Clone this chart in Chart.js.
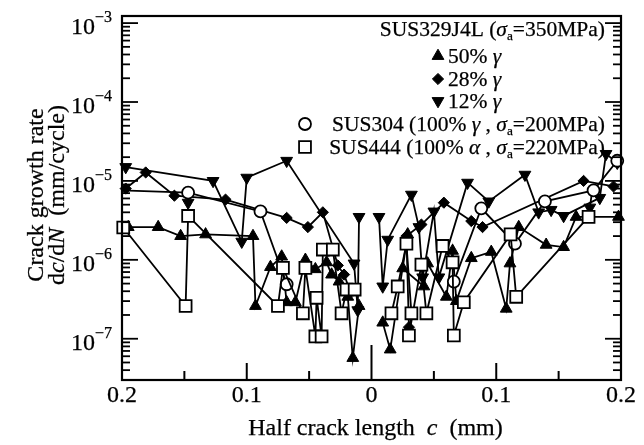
<!DOCTYPE html>
<html>
<head>
<meta charset="utf-8">
<script src="https://cdn.jsdelivr.net/npm/chart.js@4/dist/chart.umd.min.js"></script>
<style>
  html, body { margin: 0; padding: 0; background: #fff; }
  #wrap { width: 644px; height: 445px; position: relative; }
</style>
</head>
<body>
<div id="wrap"><canvas id="c" width="644" height="445"></canvas></div>
<script>
// Crack growth rate dc/dN (mm/cycle) against half crack length c (mm).
// Left-hand crack tips are stored with negative c; the axis labels show |c|.

// SUS329J4L, 50% austenite
const gamma50Left = [
  [-0.195, 2.6e-6], [-0.171, 2.6e-6], [-0.153, 2.0e-6], [-0.133, 2.1e-6],
  [-0.095, 2.0e-6], [-0.093, 2.6e-7], [-0.081, 8.1e-7], [-0.072, 1.1e-6],
  [-0.068, 2.9e-7], [-0.061, 2.9e-7], [-0.053, 1.0e-6], [-0.045, 7.6e-7],
  [-0.036, 9.3e-7], [-0.032, 6.5e-7], [-0.026, 5.3e-7], [-0.019, 3.4e-7],
  [-0.015, 5.7e-8], [-0.010, 2.6e-7]
];
const gamma50Right = [
  [0.009, 1.6e-7], [0.015, 7.3e-8], [0.029, 2.1e-6], [0.025, 7.8e-7],
  [0.042, 4.6e-7], [0.045, 9.0e-7], [0.060, 3.4e-7], [0.065, 1.3e-6],
  [0.068, 3.0e-7], [0.080, 1.05e-6], [0.096, 1.26e-6], [0.108, 2.4e-7],
  [0.111, 9.0e-7], [0.118, 2.6e-6], [0.140, 1.55e-6], [0.154, 1.45e-6],
  [0.164, 3.5e-6], [0.198, 3.5e-6]
];

// SUS329J4L, 28% austenite
const gamma28Left = [
  [-0.197, 8.0e-6], [-0.181, 1.28e-5], [-0.158, 6.5e-6], [-0.117, 5.8e-6],
  [-0.068, 3.4e-6], [-0.051, 2.6e-6], [-0.039, 4.0e-6], [-0.027, 8.5e-7],
  [-0.022, 6.5e-7], [-0.017, 4.0e-7]
];
const gamma28Right = [
  [0.030, 1.4e-7], [0.028, 2.0e-6], [0.040, 2.8e-6], [0.058, 5.3e-6],
  [0.080, 3.1e-6], [0.089, 2.6e-6], [0.170, 1.0e-5], [0.194, 8.5e-6]
];

// SUS329J4L, 12% austenite
const gamma12Left = [
  [-0.197, 1.5e-5], [-0.127, 1.0e-5], [-0.104, 1.7e-6], [-0.100, 1.1e-5],
  [-0.068, 1.8e-5], [-0.014, 9.0e-7], [-0.011, 2.3e-7], [-0.010, 3.5e-6]
];
const gamma12Right = [
  [0.006, 3.5e-6], [0.009, 4.6e-7], [0.013, 1.8e-6], [0.032, 6.7e-6],
  [0.038, 2.6e-6], [0.041, 6.0e-7], [0.050, 4.1e-6], [0.054, 6.0e-7],
  [0.077, 9.5e-6], [0.094, 5.5e-6], [0.123, 1.2e-5], [0.134, 4.0e-6],
  [0.144, 4.3e-6], [0.154, 3.6e-6], [0.183, 6.1e-6], [0.188, 2.2e-5],
  [0.197, 1.7e-5]
];
// short drops hanging below the SUS304 points (first point sits under the circle)
const gamma12DropLeft = [[-0.147, 7.1e-6], [-0.147, 5.3e-6]];
const gamma12DropRight = [[0.177, 7.6e-6], [0.175, 4.6e-6]];

// SUS304 (100% austenite)
const sus304Left = [[-0.200, 7.6e-6], [-0.147, 7.1e-6], [-0.089, 4.1e-6], [-0.068, 4.9e-7]];
const sus304Right = [
  [0.066, 5.3e-7], [0.088, 4.5e-6], [0.115, 1.6e-6], [0.139, 5.5e-6],
  [0.178, 7.6e-6], [0.197, 1.8e-5]
];

// SUS444 (100% ferrite)
const sus444Left = [
  [-0.199, 2.57e-6], [-0.149, 2.6e-7], [-0.147, 3.6e-6], [-0.075, 2.6e-7],
  [-0.071, 7.9e-7], [-0.055, 2.1e-7], [-0.053, 7.9e-7], [-0.045, 1.07e-7],
  [-0.044, 3.3e-7], [-0.040, 1.07e-7], [-0.039, 1.35e-6], [-0.031, 1.35e-6],
  [-0.024, 2.1e-7], [-0.020, 4.2e-7], [-0.0135, 4.2e-7]
];
const sus444Right = [
  [0.016, 2.1e-7], [0.021, 4.6e-7], [0.028, 1.6e-6], [0.032, 2.1e-7],
  [0.030, 1.1e-7], [0.040, 8.7e-7], [0.044, 2.1e-7], [0.057, 1.5e-6],
  [0.065, 9.3e-7], [0.066, 1.1e-7], [0.074, 2.9e-7], [0.1115, 2.1e-6],
  [0.116, 3.4e-7], [0.174, 3.5e-6]
];

// axis ticks
const xTickValues = [-0.2, -0.15, -0.1, -0.05, 0, 0.05, 0.1, 0.15, 0.2];
const xTickLabels = ['0.2', '', '0.1', '', '0', '', '0.1', '', '0.2'];
const yDecadeExponents = [-3, -4, -5, -6, -7];

const SERIF = '"Liberation Serif", "Times New Roman", serif';
const INK = 0.25; // light stroke added to glyphs for a print-like weight

const MARK = {
  up:      { pointStyle: 'triangle', rotation: 0,   radius: 6.8, fill: '#000', bw: 1 },
  diamond: { pointStyle: 'rectRot',  rotation: 0,   radius: 5.6, fill: '#000', bw: 1 },
  down:    { pointStyle: 'triangle', rotation: 180, radius: 6.8, fill: '#000', bw: 1 },
  circle:  { pointStyle: 'circle',   rotation: 0,   radius: 6.0, fill: '#fff', bw: 1.8 },
  square:  { pointStyle: 'rect',     rotation: 0,   radius: 8.4, fill: '#fff', bw: 1.8 }
};

function series(points, mark, order, hideFirst) {
  return {
    data: points.map(([x, y]) => ({ x, y })),
    showLine: true,
    borderColor: '#000',
    borderWidth: 1.8,
    tension: 0,
    pointStyle: mark.pointStyle,
    pointRotation: mark.rotation,
    pointRadius: ctx => (hideFirst && ctx.dataIndex === 0 ? 0 : mark.radius),
    pointBackgroundColor: mark.fill,
    pointBorderColor: '#000',
    pointBorderWidth: mark.bw,
    clip: false,
    order
  };
}

const datasets = [
  series(sus444Left, MARK.square, 0),
  series(sus444Right, MARK.square, 0),
  series(sus304Left, MARK.circle, 1, true),
  series(sus304Right, MARK.circle, 1),
  series(gamma28Left, MARK.diamond, 2),
  series(gamma28Right, MARK.diamond, 2),
  series(gamma12DropLeft, MARK.down, 2, true),
  series(gamma12DropRight, MARK.down, 2, true),
  series(gamma12Left, MARK.down, 3),
  series(gamma12Right, MARK.down, 3),
  series(gamma50Left, MARK.up, 4),
  series(gamma50Right, MARK.up, 4)
];

function inkText(ctx, t, x, y) {
  ctx.fillText(t, x, y);
  ctx.lineWidth = INK;
  ctx.strokeText(t, x, y);
}

// text made of runs: {t, it (italic), sub (subscript)}
function runWidth(ctx, parts, size) {
  let w = 0;
  for (const p of parts) {
    const s = p.sub ? size * 0.62 : size;
    ctx.font = (p.it ? 'italic ' : '') + s + 'px ' + SERIF;
    w += ctx.measureText(p.t).width;
  }
  return w;
}
function drawRun(ctx, parts, x, base, size, align) {
  const w = runWidth(ctx, parts, size);
  let cx = align === 'right' ? x - w : align === 'center' ? x - w / 2 : x;
  ctx.textBaseline = 'alphabetic';
  ctx.textAlign = 'left';
  for (const p of parts) {
    const s = p.sub ? size * 0.62 : size;
    ctx.font = (p.it ? 'italic ' : '') + s + 'px ' + SERIF;
    inkText(ctx, p.t, cx, p.sub ? base + size * 0.2 : base);
    cx += ctx.measureText(p.t).width;
  }
}

function marker(ctx, mark, x, y) {
  ctx.save();
  ctx.fillStyle = mark.fill;
  ctx.strokeStyle = '#000';
  ctx.lineWidth = mark.bw;
  Chart.helpers.drawPoint(ctx, { pointStyle: mark.pointStyle, rotation: mark.rotation, radius: mark.radius, borderWidth: mark.bw }, x, y);
  ctx.restore();
}

const axesPlugin = {
  id: 'axesAndLabels',
  afterDraw(chart) {
    const { ctx, chartArea: a } = chart;
    const xs = chart.scales.x, ys = chart.scales.y;
    ctx.save();
    ctx.strokeStyle = '#000';
    ctx.fillStyle = '#000';
    const seg = (x1, y1, x2, y2, w) => {
      ctx.lineWidth = w; ctx.beginPath(); ctx.moveTo(x1, y1); ctx.lineTo(x2, y2); ctx.stroke();
    };

    // frame
    ctx.lineWidth = 2.2;
    ctx.strokeRect(a.left, a.top, a.right - a.left, a.bottom - a.top);

    // log ticks on left and right
    for (let e = -8; e <= -3; e++) {
      for (let m = 1; m <= 9; m++) {
        const v = m * Math.pow(10, e);
        if (v < ys.min || v > ys.max) continue;
        const py = ys.getPixelForValue(v);
        const len = m === 1 ? 16 : 8;
        seg(a.left, py, a.left + len, py, 1.8);
        seg(a.right, py, a.right - len, py, 1.8);
      }
    }

    // bottom ticks and labels
    ctx.textBaseline = 'alphabetic';
    xTickValues.forEach((v, i) => {
      const px = xs.getPixelForValue(v);
      const len = v === 0 ? 35 : (xTickLabels[i] ? 17 : 9);
      seg(px, a.bottom, px, a.bottom - len, 2);
      if (xTickLabels[i]) {
        ctx.font = '24px ' + SERIF;
        ctx.textAlign = 'center';
        inkText(ctx, xTickLabels[i], px, a.bottom + 22);
      }
    });

    // decade labels 10^n
    yDecadeExponents.forEach(e => {
      const py = ys.getPixelForValue(Math.pow(10, e));
      const sup = '\u2212' + Math.abs(e);
      ctx.font = '16px ' + SERIF;
      const supW = ctx.measureText(sup).width;
      const xEnd = a.left - 10;
      ctx.textAlign = 'left';
      inkText(ctx, sup, xEnd - supW, py - 1);
      ctx.font = '24px ' + SERIF;
      ctx.textAlign = 'right';
      inkText(ctx, '10', xEnd - supW, py + 11);
    });

    // x title
    drawRun(ctx, [{ t: 'Half crack length  ' }, { t: 'c', it: true }, { t: '  (mm)' }],
      (a.left + a.right) / 2 + 4, 435, 24, 'center');

    // y title (two rotated lines)
    const yMid = (a.top + a.bottom) / 2 - 3;
    ctx.save();
    ctx.translate(43, yMid);
    ctx.rotate(-Math.PI / 2);
    drawRun(ctx, [{ t: 'Crack growth rate' }], 0, 0, 24, 'center');
    ctx.restore();
    ctx.save();
    ctx.translate(64, yMid);
    ctx.rotate(-Math.PI / 2);
    drawRun(ctx, [{ t: 'd' }, { t: 'c', it: true }, { t: '/d' }, { t: 'N', it: true }, { t: '  (mm/cycle)' }], 0, 0, 24, 'center');
    ctx.restore();

    // legend
    const LS = 21.5, R = 605;
    drawRun(ctx, [{ t: 'SUS329J4L (' }, { t: '\u03c3', it: true }, { t: 'a', sub: true }, { t: '=350MPa)' }], R, 36, LS, 'right');
    const rows = [
      [MARK.up, '50% ', 56],
      [MARK.diamond, '28% ', 79],
      [MARK.down, '12% ', 101]
    ];
    rows.forEach(([mk, txt, cy]) => {
      marker(ctx, mk, 438, cy);
      ctx.fillStyle = '#000';
      drawRun(ctx, [{ t: txt }, { t: '\u03b3', it: true }], 448, cy + 7, LS, 'left');
    });
    marker(ctx, MARK.circle, 305, 124);
    ctx.fillStyle = '#000';
    drawRun(ctx, [{ t: 'SUS304 (100% ' }, { t: '\u03b3', it: true }, { t: ' , ' }, { t: '\u03c3', it: true }, { t: 'a', sub: true }, { t: '=200MPa)' }], R, 131, LS, 'right');
    marker(ctx, MARK.square, 305, 147);
    ctx.fillStyle = '#000';
    drawRun(ctx, [{ t: 'SUS444 (100% ' }, { t: '\u03b1', it: true }, { t: ' , ' }, { t: '\u03c3', it: true }, { t: 'a', sub: true }, { t: '=220MPa)' }], R, 154, LS, 'right');

    ctx.restore();
  }
};

new Chart(document.getElementById('c'), {
  type: 'scatter',
  data: { datasets },
  options: {
    responsive: false,
    animation: false,
    devicePixelRatio: 1,
    events: [],
    layout: { padding: { left: 122, right: 23, top: 16, bottom: 65 } },
    scales: {
      x: { type: 'linear', min: -0.2, max: 0.2, display: false },
      y: { type: 'logarithmic', min: 3.0e-8, max: 1.23e-3, display: false }
    },
    plugins: { legend: { display: false }, tooltip: { enabled: false } }
  },
  plugins: [axesPlugin]
});
</script>
</body>
</html>
